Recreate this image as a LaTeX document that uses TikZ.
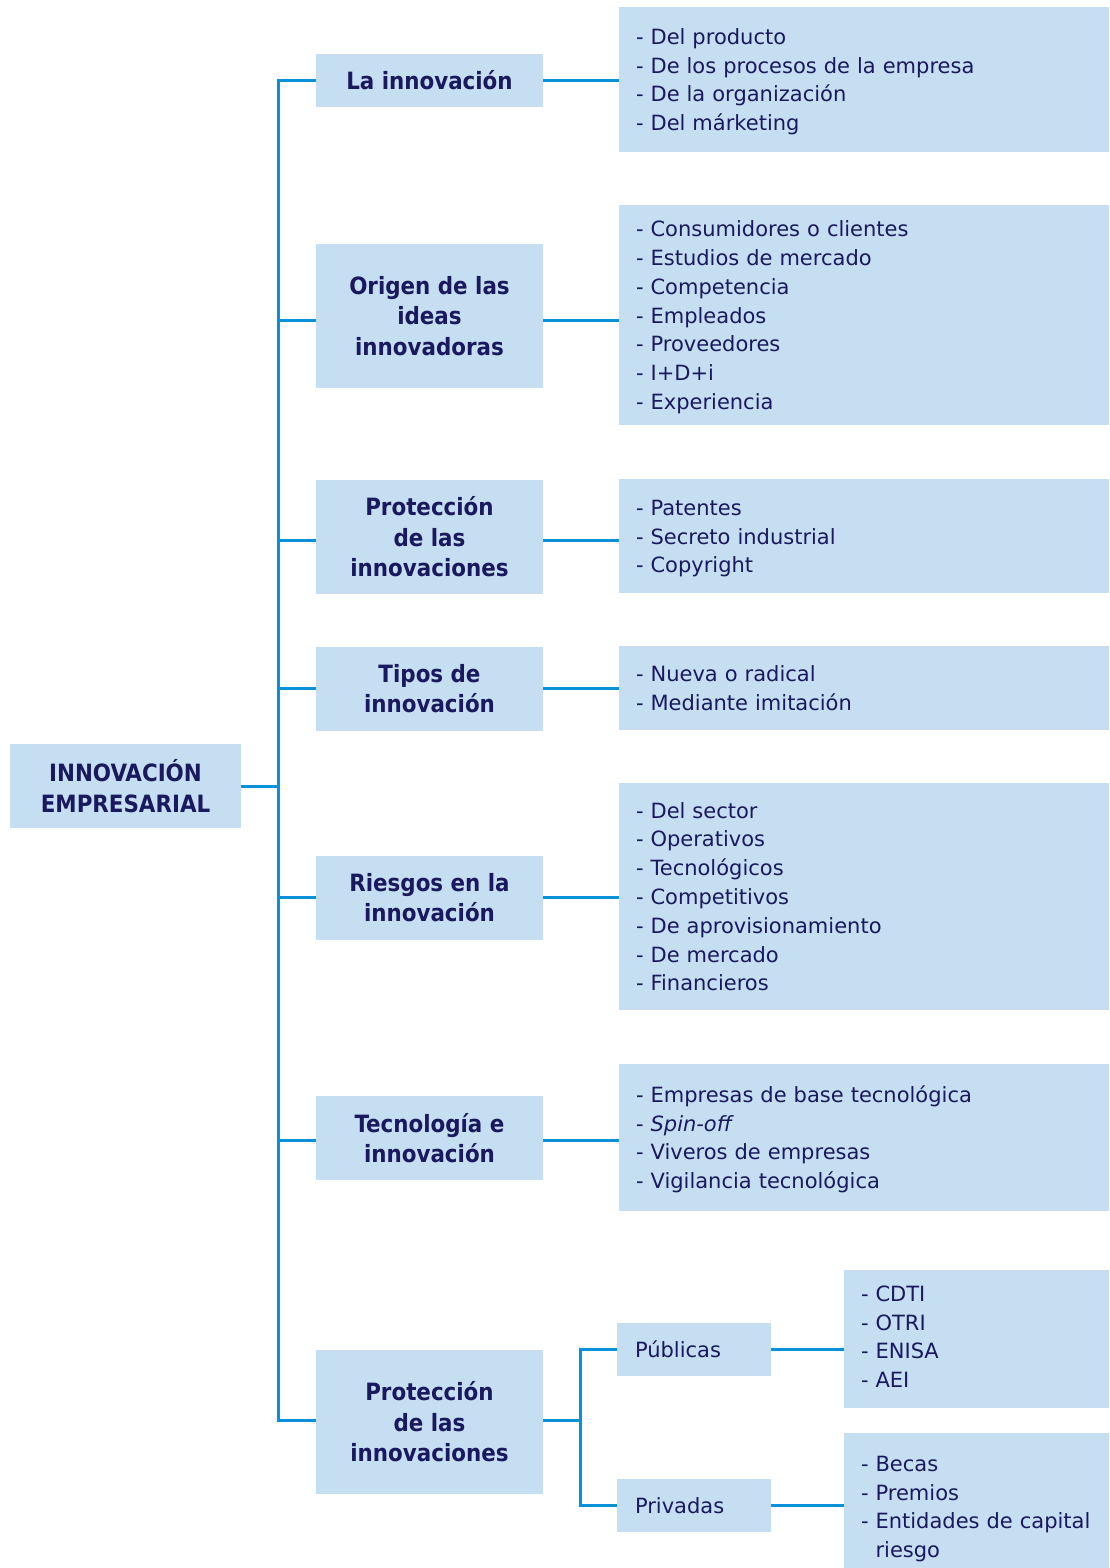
\documentclass[tikz,border=0pt]{standalone}
\usepackage{fontspec}
\setmainfont{DejaVu Sans}[ItalicFont={DejaVu Sans Oblique}]
\newfontfamily\headfont{DejaVu Sans Condensed Bold}
\definecolor{boxfill}{RGB}{198,222,241}
\definecolor{linkblue}{RGB}{8,144,216}
\definecolor{ink}{RGB}{26,24,94}
\tikzset{
  liststrut/.initial=21pt,
  headbox/.style={fill=boxfill, text=ink, inner sep=0pt, align=center,
    font=\headfont\fontsize{23.8}{30.5}\selectfont},
  listbox/.style={fill=boxfill, text=ink, inner xsep=17pt, inner ysep=0pt,
    text width=456pt, align=left, font=\fontsize{21}{28.8}\selectfont,
    execute at begin node=\rule{0pt}{\pgfkeysvalueof{/tikz/liststrut}},
    execute at end node=\rule[-5pt]{0pt}{5pt}},
  sublist/.style={listbox, text width=231pt},
  subbox/.style={fill=boxfill, text=ink, inner xsep=18pt, inner ysep=0pt,
    minimum width=154pt, minimum height=53pt, text width=118pt, align=left,
    font=\fontsize{21}{28.8}\selectfont},
  link/.style={draw=linkblue, line width=3pt}
}
\begin{document}
\begin{tikzpicture}[x=1pt,y=-1pt]
\useasboundingbox (0,0) rectangle (1109,1568);

% root
\node[headbox, minimum width=231pt, minimum height=84pt] (root) at (125.5,786)
  {INNOVACIÓN\\EMPRESARIAL};

% second level
\node[headbox, minimum width=227pt, minimum height=53pt]  (m1) at (429.5,80.5) {La innovación};
\node[headbox, minimum width=227pt, minimum height=144pt] (m2) at (429.5,316) {Origen de las\\ideas\\innovadoras};
\node[headbox, minimum width=227pt, minimum height=114pt] (m3) at (429.5,537) {Protección\\de las\\innovaciones};
\node[headbox, minimum width=227pt, minimum height=84pt]  (m4) at (429.5,688.5) {Tipos de\\innovación};
\node[headbox, minimum width=227pt, minimum height=84pt]  (m5) at (429.5,897.5) {Riesgos en la\\innovación};
\node[headbox, minimum width=227pt, minimum height=84pt]  (m6) at (429.5,1138) {Tecnología e\\innovación};
\node[headbox, minimum width=227pt, minimum height=144pt] (m7) at (429.5,1422) {Protección\\de las\\innovaciones};

% lists
\node[listbox, minimum height=145pt] (l1) at (864,79.5)
  {- Del producto\\- De los procesos de la empresa\\- De la organización\\- Del márketing};
\node[listbox, minimum height=220pt] (l2) at (864,315)
  {- Consumidores o clientes\\- Estudios de mercado\\- Competencia\\- Empleados\\- Proveedores\\- I+D+i\\- Experiencia};
\node[listbox, minimum height=114pt] (l3) at (864,536)
  {- Patentes\\- Secreto industrial\\- Copyright};
\node[listbox, minimum height=84pt] (l4) at (864,688)
  {- Nueva o radical\\- Mediante imitación};
\node[listbox, minimum height=227pt] (l5) at (864,896.5)
  {- Del sector\\- Operativos\\- Tecnológicos\\- Competitivos\\- De aprovisionamiento\\- De mercado\\- Financieros};
\node[listbox, minimum height=147pt] (l6) at (864,1137.5)
  {- Empresas de base tecnológica\\- \textit{Spin-off}\\- Viveros de empresas\\- Vigilancia tecnológica};

% financing branch
\node[subbox] (pub) at (694,1349.5) {Públicas};
\node[subbox] (priv) at (694,1505.5) {Privadas};
\node[sublist, minimum height=138pt, liststrut=16pt] (lp) at (976.5,1339)
  {- CDTI\\- OTRI\\- ENISA\\- AEI};
\node[sublist, minimum height=147pt] (lq) at (976.5,1506.5)
  {- Becas\\- Premios\\- Entidades de capital\\\hphantom{-}\ riesgo};

% trunk and branches
\coordinate (tk) at (278,0);
\coordinate (sx) at (580,0);
\coordinate (j2) at ([yshift=-4pt]m2.west);
\coordinate (j3) at ([yshift=-3pt]m3.west);
\coordinate (j6) at ([yshift=-2pt]m6.west);
\coordinate (j7) at ([yshift=1.5pt]m7.west);
\draw[link] (m1.west) -| (j7 -| tk) -- (j7);
\draw[link] (root.east) -- (root.east -| tk);
\foreach \j in {j2,j3,m4.west,m5.west,j6} \draw[link] (\j) -- (\j -| tk);
\draw[link] (m1.east) -- (m1.east -| l1.west);
\draw[link] (j2 -| m2.east) -- (j2 -| l2.west);
\draw[link] (j3 -| m3.east) -- (j3 -| l3.west);
\draw[link] (m4.east) -- (m4.east -| l4.west);
\draw[link] (m5.east) -- (m5.east -| l5.west);
\draw[link] (j6 -| m6.east) -- (j6 -| l6.west);
\draw[link] (j7 -| m7.east) -- (j7 -| sx);
\draw[link] (pub.west) -| (j7 -| sx) |- (priv.west);
\draw[link] (pub.east) -- (pub.east -| lp.west);
\draw[link] (priv.east) -- (priv.east -| lq.west);
\end{tikzpicture}
\end{document}
